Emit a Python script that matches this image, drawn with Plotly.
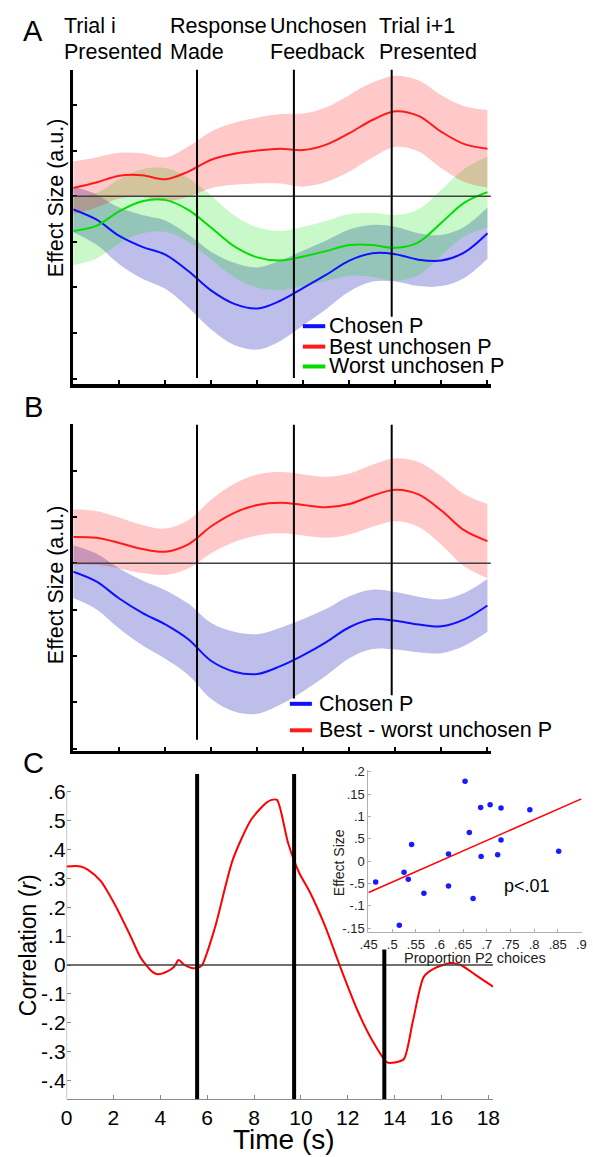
import numpy as np
import plotly.graph_objects as go

W, H = 593, 1157
FONT = "Liberation Sans, Arial, sans-serif"

# ---------------- data ----------------
time_s = list(range(19))  # 0..18 s

# Panel A
chosen_A = [-0.29, -0.51, -0.87, -1.11, -1.28, -1.64, -2.07, -2.36, -2.46, -2.29,
            -2.01, -1.72, -1.41, -1.25, -1.27, -1.39, -1.41, -1.23, -0.81]
chosen_A_se = [0.50, 0.55, 0.62, 0.70, 0.75, 0.80, 0.85, 0.90, 0.90, 0.88,
               0.82, 0.75, 0.68, 0.62, 0.60, 0.58, 0.56, 0.56, 0.56]
best_A = [0.18, 0.30, 0.45, 0.46, 0.37, 0.54, 0.80, 0.93, 1.00, 1.04,
          1.01, 1.13, 1.38, 1.67, 1.86, 1.76, 1.41, 1.14, 1.04]
best_A_se = [0.58, 0.55, 0.50, 0.48, 0.48, 0.55, 0.62, 0.68, 0.72, 0.76,
             0.80, 0.82, 0.84, 0.82, 0.78, 0.78, 0.80, 0.83, 0.85]
worst_A = [-0.76, -0.65, -0.33, -0.11, -0.08, -0.30, -0.69, -1.10, -1.34, -1.41,
           -1.32, -1.20, -1.07, -1.07, -1.13, -1.01, -0.58, -0.14, 0.09]
worst_A_se = [0.75, 0.72, 0.70, 0.70, 0.70, 0.70, 0.70, 0.68, 0.66, 0.65,
              0.65, 0.66, 0.68, 0.70, 0.72, 0.72, 0.72, 0.74, 0.78]

# Panel B
chosen_B = [-0.18, -0.39, -0.76, -1.07, -1.32, -1.64, -2.11, -2.34, -2.39, -2.22,
            -1.98, -1.70, -1.38, -1.21, -1.24, -1.32, -1.36, -1.21, -0.91]
chosen_B_se = [0.57, 0.60, 0.65, 0.70, 0.74, 0.77, 0.82, 0.86, 0.86, 0.83,
               0.78, 0.72, 0.67, 0.64, 0.62, 0.60, 0.58, 0.57, 0.57]
diff_B = [0.57, 0.55, 0.44, 0.31, 0.25, 0.41, 0.80, 1.09, 1.26, 1.31,
          1.26, 1.21, 1.28, 1.46, 1.59, 1.49, 1.14, 0.71, 0.48]
diff_B_se = [0.60, 0.58, 0.55, 0.52, 0.50, 0.52, 0.58, 0.63, 0.66, 0.66,
             0.66, 0.66, 0.66, 0.67, 0.68, 0.70, 0.74, 0.78, 0.80]

# Event times
events_AB = [5.38, 9.59, 13.84]
events_C = [5.57, 9.71, 13.56]
top_labels = [("Trial i", "Presented"), ("Response", "Made"),
              ("Unchosen", "Feedback"), ("Trial i+1", "Presented")]

# Panel C
corr_t = [0, 0.6, 0.9, 1.46, 2.08, 2.71, 3.18, 3.65, 3.89, 4.28, 4.59, 4.78, 5.03,
          5.38, 5.61, 5.77, 6.32, 7.1, 7.88, 8.51, 8.75, 8.98, 9.45, 9.92, 10.39,
          11.02, 11.65, 12.43, 13.06, 13.68, 14.0, 14.39, 14.78, 15.25, 15.72,
          16.35, 16.82, 17.45, 18.2]
corr_r = [0.341, 0.341, 0.33, 0.29, 0.206, 0.103, 0.023, -0.023, -0.032, -0.023,
          -0.006, 0.017, 0.0, -0.011, -0.009, -0.002, 0.126, 0.366, 0.503, 0.56,
          0.571, 0.571, 0.423, 0.32, 0.251, 0.137, 0.0, -0.16, -0.263, -0.337,
          -0.337, -0.326, -0.194, -0.04, -0.011, 0.006, 0.0, -0.034, -0.075]
c_xticks = list(range(0, 19, 2))
c_yticks = [-0.4, -0.3, -0.2, -0.1, 0, 0.1, 0.2, 0.3, 0.4, 0.5, 0.6]
c_yticktext = ["-.4", "-.3", "-.2", "-.1", "0", ".1", ".2", ".3", ".4", ".5", ".6"]

# Inset scatter
prop_p2 = [0.465, 0.515, 0.525, 0.534, 0.541, 0.567, 0.619, 0.619, 0.654, 0.663,
           0.671, 0.687, 0.688, 0.707, 0.723, 0.730, 0.730, 0.791, 0.852]
effect = [-0.047, -0.144, -0.025, -0.041, 0.037, -0.072, 0.016, -0.056, 0.179, 0.064,
          -0.084, 0.120, 0.010, 0.126, 0.014, 0.119, 0.047, 0.115, 0.022]
ins_xticks = [0.45, 0.5, 0.55, 0.6, 0.65, 0.7, 0.75, 0.8, 0.85, 0.9]
ins_xtext = [".45", ".5", ".55", ".6", ".65", ".7", ".75", ".8", ".85", ".9"]
ins_yticks = [-0.15, -0.1, -0.05, 0, 0.05, 0.1, 0.15, 0.2]
ins_ytext = ["-.15", "-.1", "-.5", "0", ".5", ".1", ".15", ".2"]

# ---------------- style ----------------
RED, GREEN, BLUE = "#ff1a1a", "#00dd00", "#1010ff"
RED_F = "rgba(255,0,0,0.21)"
GREEN_F = "rgba(0,225,0,0.21)"
BLUE_F = "rgba(20,20,180,0.28)"


def px(x):
    return x / W


def py(y):
    return 1 - y / H


fig = go.Figure()


def band(t, mean, se, fill, xa, ya):
    m = np.array(mean)
    s = np.array(se)
    fig.add_trace(go.Scatter(x=t, y=m + s, mode="lines",
                             line=dict(width=0, shape="spline", smoothing=1),
                             hoverinfo="skip", showlegend=False, xaxis=xa, yaxis=ya))
    fig.add_trace(go.Scatter(x=t, y=m - s, mode="lines",
                             line=dict(width=0, shape="spline", smoothing=1),
                             fill="tonexty", fillcolor=fill,
                             hoverinfo="skip", showlegend=False, xaxis=xa, yaxis=ya))


def line(t, mean, color, xa, ya, width=2):
    fig.add_trace(go.Scatter(x=t, y=mean, mode="lines",
                             line=dict(color=color, width=width, shape="spline", smoothing=1),
                             showlegend=False, xaxis=xa, yaxis=ya))


# Panel A
band(time_s, chosen_A, chosen_A_se, BLUE_F, "x", "y")
band(time_s, worst_A, worst_A_se, GREEN_F, "x", "y")
band(time_s, best_A, best_A_se, RED_F, "x", "y")
line(time_s, chosen_A, BLUE, "x", "y")
line(time_s, worst_A, GREEN, "x", "y")
line(time_s, best_A, RED, "x", "y")

# Panel B
band(time_s, chosen_B, chosen_B_se, BLUE_F, "x2", "y2")
band(time_s, diff_B, diff_B_se, RED_F, "x2", "y2")
line(time_s, chosen_B, BLUE, "x2", "y2")
line(time_s, diff_B, RED, "x2", "y2")

# Panel C
fig.add_trace(go.Scatter(x=corr_t, y=corr_r, mode="lines",
                         line=dict(color="#ff0000", width=2, shape="spline", smoothing=0.7),
                         showlegend=False, xaxis="x3", yaxis="y3"))

# Inset
fit = np.polyfit(prop_p2, effect, 1)
fit_x = np.array([ins_xticks[0], ins_xticks[-1]])
fig.add_trace(go.Scatter(x=fit_x, y=np.polyval(fit, fit_x), mode="lines",
                         line=dict(color="#ff0000", width=1.5),
                         showlegend=False, xaxis="x4", yaxis="y4"))
fig.add_trace(go.Scatter(x=prop_p2, y=effect, mode="markers",
                         marker=dict(color="#1a1aff", size=5.5),
                         showlegend=False, xaxis="x4", yaxis="y4"))

A_TOP_PX, A_BOT_PX, A_ZERO_PX, A_UNIT = 64, 381, 191.7, 46.0
A_RANGE = [(A_ZERO_PX - A_BOT_PX) / A_UNIT, (A_ZERO_PX - A_TOP_PX) / A_UNIT]
B_TOP_PX, B_BOT_PX, B_ZERO_PX, B_UNIT = 421.7, 750.5, 561.7, 46.67
B_RANGE = [(B_ZERO_PX - B_BOT_PX) / B_UNIT, (B_ZERO_PX - B_TOP_PX) / B_UNIT]
C_RANGE = [-0.4638, 0.6606]
X_AB = [0, 18.15]
X_C = [0, 18.2]

common_x = dict(range=X_AB, showline=True, linewidth=3.5, linecolor="black",
                ticks="inside", tickvals=list(range(0, 19, 2)), ticklen=4, tickwidth=2,
                tickcolor="black", showticklabels=False, showgrid=False, zeroline=False)
common_y = dict(showline=True, linewidth=3.5, linecolor="black", ticks="inside",
                tickvals=[-4, -3, -2, -1, 0, 1, 2, 3], ticklen=4, tickwidth=2,
                tickcolor="black", showticklabels=False, showgrid=False, zeroline=False)

AB_X0, AB_PXS = 66.0, 23.65
C_X0, C_PXS = 59.2, 24.08

fig.update_layout(
    width=W, height=H, autosize=False,
    margin=dict(l=0, r=0, t=0, b=0),
    paper_bgcolor="white", plot_bgcolor="rgba(0,0,0,0)",
    font=dict(family=FONT, color="black"),
    xaxis=dict(domain=[px(AB_X0), px(AB_X0 + X_AB[1] * AB_PXS)], anchor="y", **common_x),
    yaxis=dict(domain=[py(A_BOT_PX), py(A_TOP_PX)], range=A_RANGE, anchor="x", **common_y),
    xaxis2=dict(domain=[px(AB_X0), px(AB_X0 + X_AB[1] * AB_PXS)], anchor="y2", **common_x),
    yaxis2=dict(domain=[py(B_BOT_PX), py(B_TOP_PX)], range=B_RANGE, anchor="x2", **common_y),
    xaxis3=dict(domain=[px(C_X0), px(C_X0 + X_C[1] * C_PXS)], range=X_C, anchor="y3",
                showline=True, linewidth=1, linecolor="#8a8a8a", ticks="inside",
                tickvals=c_xticks, ticklen=4, tickcolor="#8a8a8a",
                tickfont=dict(size=21, color="black"), showgrid=False, zeroline=False),
    yaxis3=dict(domain=[py(1101.7), py(774)], range=C_RANGE, anchor="x3",
                showline=False, ticks="inside", ticklen=4, tickcolor="#8a8a8a",
                tickvals=c_yticks, ticktext=c_yticktext,
                tickfont=dict(size=21, color="black"), showgrid=False, zeroline=False),
    xaxis4=dict(domain=[px(369.3), px(588.5)], range=[0.4495, 0.9005], anchor="y4",
                showline=True, linewidth=1, linecolor="#b0b0b0", ticks="inside",
                ticklen=3, tickcolor="#b0b0b0", tickvals=ins_xticks, ticktext=ins_xtext,
                tickfont=dict(size=13, color="#222"), showgrid=False, zeroline=False),
    yaxis4=dict(domain=[py(933.3), py(770)], range=[-0.159, 0.204], anchor="x4",
                showline=True, linewidth=1, linecolor="#b0b0b0", ticks="inside",
                ticklen=3, tickcolor="#b0b0b0", tickvals=ins_yticks, ticktext=ins_ytext,
                tickfont=dict(size=13, color="#222"), showgrid=False, zeroline=False),
)

shapes = []
# zero lines
for xr, yr, x1 in (("x", "y", X_AB[1]), ("x2", "y2", X_AB[1]), ("x3", "y3", X_C[1])):
    shapes.append(dict(type="line", xref=xr, yref=yr, x0=0, x1=x1, y0=0, y1=0,
                       line=dict(color="#404040", width=1.5), layer="above"))
# event lines
for t, ybot in zip(events_AB, [(A_ZERO_PX - 375) / A_UNIT, (A_ZERO_PX - 375) / A_UNIT,
                               (A_ZERO_PX - 313.3) / A_UNIT]):
    shapes.append(dict(type="line", xref="x", yref="y", x0=t, x1=t, y0=ybot, y1=A_RANGE[1],
                       line=dict(color="black", width=2), layer="above"))
for t, ybot in zip(events_AB, [-3.81, -2.92, -2.85]):
    shapes.append(dict(type="line", xref="x2", yref="y2", x0=t, x1=t, y0=ybot, y1=B_RANGE[1],
                       line=dict(color="black", width=2), layer="above"))
for t, ytop in zip(events_C, [C_RANGE[1], C_RANGE[1], 0.054]):
    shapes.append(dict(type="line", xref="x3", yref="y3", x0=t, x1=t, y0=C_RANGE[0], y1=ytop,
                       line=dict(color="black", width=4), layer="above"))
# C y axis line
shapes.append(dict(type="line", xref="x3", yref="y3", x0=0, x1=0, y0=C_RANGE[0], y1=0.6,
                   line=dict(color="#8a8a8a", width=1), layer="above"))

annotations = []


def text(x, y, s, size, xanchor="left", angle=0, color="black"):
    annotations.append(dict(x=px(x), y=py(y), xref="paper", yref="paper", text=s,
                            showarrow=False, xanchor=xanchor, yanchor="middle",
                            textangle=angle, font=dict(size=size, color=color, family=FONT)))


# legends
legA = [("Chosen P", BLUE), ("Best unchosen P", RED), ("Worst unchosen P", GREEN)]
for (lab, col), yy in zip(legA, [322.7, 343.3, 363.3]):
    shapes.append(dict(type="line", xref="paper", yref="paper", x0=px(302), x1=px(325),
                       y0=py(yy), y1=py(yy), line=dict(color=col, width=4)))
    text(326.5, yy, lab, 21.5)
legB = [("Chosen P", BLUE), ("Best - worst unchosen P", RED)]
for (lab, col), yy in zip(legB, [703.3, 730]):
    shapes.append(dict(type="line", xref="paper", yref="paper", x0=px(288.7), x1=px(311.3),
                       y0=py(yy), y1=py(yy), line=dict(color=col, width=4)))
    text(317, yy, lab, 21.5)

# top labels
for (l1, l2), xl in zip(top_labels, [54.7, 163, 266.4, 378.5]):
    text(xl, 20, l1, 21.5)
    text(xl, 46, l2, 21.5)

# panel letters
text(25, 25, "A", 29, xanchor="center")
text(25, 404, "B", 29, xanchor="center")
text(25, 763, "C", 29, xanchor="center")

# axis titles
text(49, 193, "Effect Size (a.u.)", 21.5, xanchor="center", angle=-90)
text(49, 583, "Effect Size (a.u.)", 21.5, xanchor="center", angle=-90)
text(19, 946, "Correlation (<i>r</i>)", 23, xanchor="center", angle=-90)
text(283, 1142, "Time (s)", 28, xanchor="center")

# inset texts
text(339, 863, "Effect Size", 14, xanchor="center", angle=-90, color="#222")
text(479, 959, "Proportion P2 choices", 14.5, xanchor="center", color="#222")
text(532, 887, "p&lt;.01", 18, xanchor="center")

fig.update_layout(shapes=shapes, annotations=annotations)
fig.write_html("out.html",
               config={"displayModeBar": False, "staticPlot": True},
               post_script="document.body.style.margin='0px';"
                           "document.body.style.overflow='hidden';")
